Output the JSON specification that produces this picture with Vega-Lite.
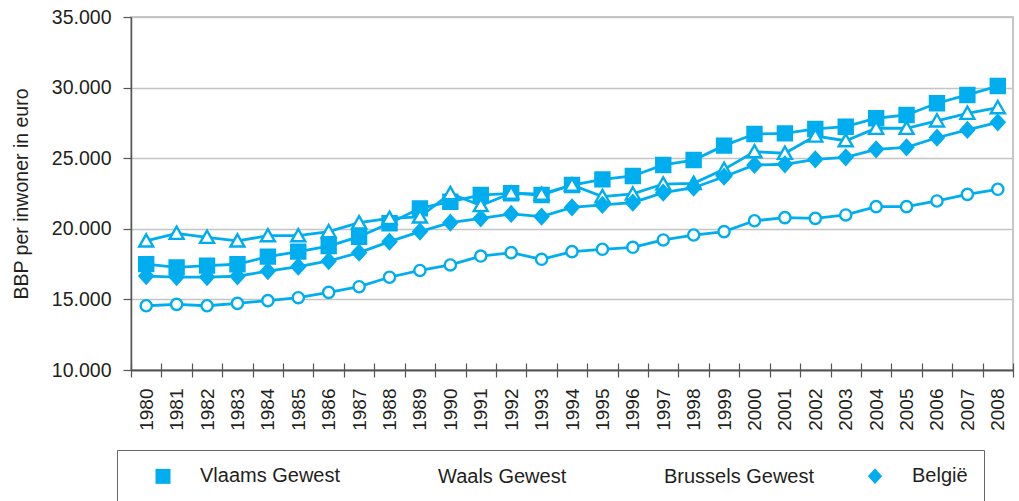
{
  "$schema": "https://vega.github.io/schema/vega-lite/v6.json",
  "width": 882,
  "height": 353,
  "autosize": {"type": "none"},
  "padding": {"left": 131, "top": 17, "right": 6, "bottom": 131},
  "background": "white",
  "config": {
    "font": "Liberation Sans",
    "view": {"stroke": "#b5b5b5", "strokeWidth": 1.5},
    "axis": {"labelFont": "Liberation Sans", "titleFont": "Liberation Sans", "labelColor": "#231f20", "titleColor": "#231f20"},
    "legend": {"labelFont": "Liberation Sans"}
  },
  "data": {
    "values": [
      {"year": 1980, "region": "Vlaams Gewest", "value": 17500},
      {"year": 1981, "region": "Vlaams Gewest", "value": 17270},
      {"year": 1982, "region": "Vlaams Gewest", "value": 17390},
      {"year": 1983, "region": "Vlaams Gewest", "value": 17490},
      {"year": 1984, "region": "Vlaams Gewest", "value": 18030},
      {"year": 1985, "region": "Vlaams Gewest", "value": 18380},
      {"year": 1986, "region": "Vlaams Gewest", "value": 18780},
      {"year": 1987, "region": "Vlaams Gewest", "value": 19440},
      {"year": 1988, "region": "Vlaams Gewest", "value": 20390},
      {"year": 1989, "region": "Vlaams Gewest", "value": 21450},
      {"year": 1990, "region": "Vlaams Gewest", "value": 21920},
      {"year": 1991, "region": "Vlaams Gewest", "value": 22390},
      {"year": 1992, "region": "Vlaams Gewest", "value": 22520},
      {"year": 1993, "region": "Vlaams Gewest", "value": 22390},
      {"year": 1994, "region": "Vlaams Gewest", "value": 23100},
      {"year": 1995, "region": "Vlaams Gewest", "value": 23500},
      {"year": 1996, "region": "Vlaams Gewest", "value": 23740},
      {"year": 1997, "region": "Vlaams Gewest", "value": 24520},
      {"year": 1998, "region": "Vlaams Gewest", "value": 24870},
      {"year": 1999, "region": "Vlaams Gewest", "value": 25890},
      {"year": 2000, "region": "Vlaams Gewest", "value": 26710},
      {"year": 2001, "region": "Vlaams Gewest", "value": 26760},
      {"year": 2002, "region": "Vlaams Gewest", "value": 27070},
      {"year": 2003, "region": "Vlaams Gewest", "value": 27230},
      {"year": 2004, "region": "Vlaams Gewest", "value": 27830},
      {"year": 2005, "region": "Vlaams Gewest", "value": 28060},
      {"year": 2006, "region": "Vlaams Gewest", "value": 28890},
      {"year": 2007, "region": "Vlaams Gewest", "value": 29480},
      {"year": 2008, "region": "Vlaams Gewest", "value": 30110},
      {"year": 1980, "region": "Waals Gewest", "value": 14550},
      {"year": 1981, "region": "Waals Gewest", "value": 14650},
      {"year": 1982, "region": "Waals Gewest", "value": 14550},
      {"year": 1983, "region": "Waals Gewest", "value": 14720},
      {"year": 1984, "region": "Waals Gewest", "value": 14910},
      {"year": 1985, "region": "Waals Gewest", "value": 15120},
      {"year": 1986, "region": "Waals Gewest", "value": 15500},
      {"year": 1987, "region": "Waals Gewest", "value": 15900},
      {"year": 1988, "region": "Waals Gewest", "value": 16570},
      {"year": 1989, "region": "Waals Gewest", "value": 17050},
      {"year": 1990, "region": "Waals Gewest", "value": 17440},
      {"year": 1991, "region": "Waals Gewest", "value": 18070},
      {"year": 1992, "region": "Waals Gewest", "value": 18310},
      {"year": 1993, "region": "Waals Gewest", "value": 17840},
      {"year": 1994, "region": "Waals Gewest", "value": 18380},
      {"year": 1995, "region": "Waals Gewest", "value": 18550},
      {"year": 1996, "region": "Waals Gewest", "value": 18690},
      {"year": 1997, "region": "Waals Gewest", "value": 19210},
      {"year": 1998, "region": "Waals Gewest", "value": 19560},
      {"year": 1999, "region": "Waals Gewest", "value": 19800},
      {"year": 2000, "region": "Waals Gewest", "value": 20570},
      {"year": 2001, "region": "Waals Gewest", "value": 20790},
      {"year": 2002, "region": "Waals Gewest", "value": 20740},
      {"year": 2003, "region": "Waals Gewest", "value": 20980},
      {"year": 2004, "region": "Waals Gewest", "value": 21570},
      {"year": 2005, "region": "Waals Gewest", "value": 21570},
      {"year": 2006, "region": "Waals Gewest", "value": 21970},
      {"year": 2007, "region": "Waals Gewest", "value": 22440},
      {"year": 2008, "region": "Waals Gewest", "value": 22800},
      {"year": 1980, "region": "Brussels Gewest", "value": 19140},
      {"year": 1981, "region": "Brussels Gewest", "value": 19680},
      {"year": 1982, "region": "Brussels Gewest", "value": 19400},
      {"year": 1983, "region": "Brussels Gewest", "value": 19140},
      {"year": 1984, "region": "Brussels Gewest", "value": 19510},
      {"year": 1985, "region": "Brussels Gewest", "value": 19510},
      {"year": 1986, "region": "Brussels Gewest", "value": 19800},
      {"year": 1987, "region": "Brussels Gewest", "value": 20430},
      {"year": 1988, "region": "Brussels Gewest", "value": 20740},
      {"year": 1989, "region": "Brussels Gewest", "value": 20840},
      {"year": 1990, "region": "Brussels Gewest", "value": 22500},
      {"year": 1991, "region": "Brussels Gewest", "value": 21650},
      {"year": 1992, "region": "Brussels Gewest", "value": 22520},
      {"year": 1993, "region": "Brussels Gewest", "value": 22450},
      {"year": 1994, "region": "Brussels Gewest", "value": 23100},
      {"year": 1995, "region": "Brussels Gewest", "value": 22280},
      {"year": 1996, "region": "Brussels Gewest", "value": 22470},
      {"year": 1997, "region": "Brussels Gewest", "value": 23170},
      {"year": 1998, "region": "Brussels Gewest", "value": 23220},
      {"year": 1999, "region": "Brussels Gewest", "value": 24210},
      {"year": 2000, "region": "Brussels Gewest", "value": 25460},
      {"year": 2001, "region": "Brussels Gewest", "value": 25350},
      {"year": 2002, "region": "Brussels Gewest", "value": 26570},
      {"year": 2003, "region": "Brussels Gewest", "value": 26240},
      {"year": 2004, "region": "Brussels Gewest", "value": 27120},
      {"year": 2005, "region": "Brussels Gewest", "value": 27120},
      {"year": 2006, "region": "Brussels Gewest", "value": 27640},
      {"year": 2007, "region": "Brussels Gewest", "value": 28180},
      {"year": 2008, "region": "Brussels Gewest", "value": 28580},
      {"year": 1980, "region": "België", "value": 16650},
      {"year": 1981, "region": "België", "value": 16580},
      {"year": 1982, "region": "België", "value": 16580},
      {"year": 1983, "region": "België", "value": 16640},
      {"year": 1984, "region": "België", "value": 17010},
      {"year": 1985, "region": "België", "value": 17320},
      {"year": 1986, "region": "België", "value": 17720},
      {"year": 1987, "region": "België", "value": 18310},
      {"year": 1988, "region": "België", "value": 19090},
      {"year": 1989, "region": "België", "value": 19800},
      {"year": 1990, "region": "België", "value": 20430},
      {"year": 1991, "region": "België", "value": 20740},
      {"year": 1992, "region": "België", "value": 21050},
      {"year": 1993, "region": "België", "value": 20860},
      {"year": 1994, "region": "België", "value": 21520},
      {"year": 1995, "region": "België", "value": 21690},
      {"year": 1996, "region": "België", "value": 21850},
      {"year": 1997, "region": "België", "value": 22560},
      {"year": 1998, "region": "België", "value": 22910},
      {"year": 1999, "region": "België", "value": 23690},
      {"year": 2000, "region": "België", "value": 24520},
      {"year": 2001, "region": "België", "value": 24570},
      {"year": 2002, "region": "België", "value": 24920},
      {"year": 2003, "region": "België", "value": 25060},
      {"year": 2004, "region": "België", "value": 25630},
      {"year": 2005, "region": "België", "value": 25770},
      {"year": 2006, "region": "België", "value": 26450},
      {"year": 2007, "region": "België", "value": 27000},
      {"year": 2008, "region": "België", "value": 27540}
    ]
  },
  "encoding": {
    "x": {
      "field": "year",
      "type": "ordinal",
      "scale": {"type": "band", "paddingInner": 0, "paddingOuter": 0},
      "axis": {
        "title": null,
        "domain": false,
        "offset": -7,
        "tickSize": 14,
        "tickBand": "extent",
        "tickColor": "#555555",
        "tickWidth": 1.2,
        "labelAngle": -90,
        "labelAlign": "right",
        "labelBaseline": "middle",
        "labelPadding": 11,
        "labelFontSize": 19,
        "labelColor": "#231f20"
      }
    },
    "y": {
      "field": "value",
      "type": "quantitative",
      "scale": {"domain": [10000, 35000], "nice": false, "zero": false},
      "axis": {
        "title": "BBP per inwoner in euro",
        "titleFontSize": 19.5,
        "titleFontWeight": "normal",
        "titlePadding": 20,
        "values": [10000, 15000, 20000, 25000, 30000, 35000],
        "labelExpr": "replace(format(datum.value, ','), ',', '.')",
        "labelFontSize": 19.5,
        "labelPadding": 12,
        "tickSize": 8,
        "tickColor": "#555555",
        "tickWidth": 1.2,
        "domainColor": "#555555",
        "domainWidth": 1.5,
        "grid": true,
        "gridColor": {"condition": {"test": "datum.value === 10000", "value": "#555555"}, "value": "#c4c4c4"},
        "gridWidth": {"condition": {"test": "datum.value === 10000", "value": 1.8}, "value": 1.3}
      }
    }
  },
  "layer": [
    {
      "mark": {"type": "line", "color": "#00aeef", "strokeWidth": 2.8},
      "encoding": {"detail": {"field": "region", "type": "nominal"}}
    },
    {
      "mark": {"type": "point", "filled": true, "stroke": "#00aeef", "strokeWidth": 2.4, "opacity": 1, "size": 196},
      "encoding": {
        "shape": {
          "field": "region",
          "type": "nominal",
          "scale": {"domain": ["Vlaams Gewest", "Waals Gewest", "Brussels Gewest", "België"], "range": ["M-1,-1H1V1H-1Z", "M-0.8,0A0.8,0.8 0 1,0 0.8,0A0.8,0.8 0 1,0 -0.8,0Z", "M0,-0.95L1,0.8H-1Z", "M-0.95,0L0,-1.05L0.95,0L0,1.05Z"]},
          "legend": {
            "title": null,
            "orient": "none",
            "direction": "horizontal",
            "legendX": -14,
            "legendY": 433,
            "padding": 16,
            "strokeColor": "#666666",
            "fillColor": "white",
            "columnPadding": 30,
            "symbolSize": 225,
            "symbolOffset": 20,
            "symbolStrokeColor": "#00aeef",
            "symbolStrokeWidth": 2.4,
            "labelOffset": 27,
            "labelFontSize": 20,
            "labelColor": "#231f20",
            "labelLimit": 300
          }
        },
        "fill": {
          "field": "region",
          "type": "nominal",
          "scale": {"domain": ["Vlaams Gewest", "Waals Gewest", "Brussels Gewest", "België"], "range": ["#00aeef", "white", "white", "#00aeef"]},
          "legend": null
        }
      }
    }
  ]
}
